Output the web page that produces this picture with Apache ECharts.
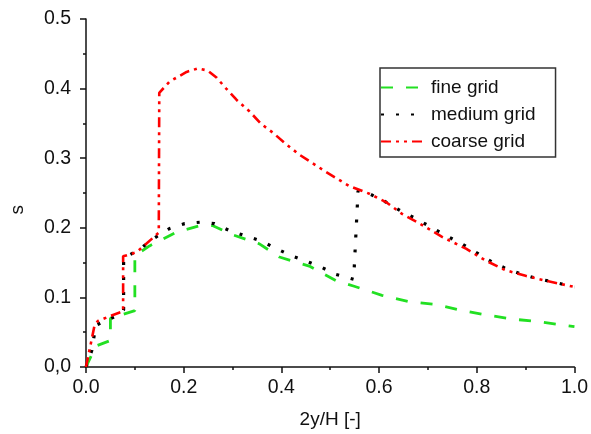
<!DOCTYPE html>
<html>
<head>
<meta charset="utf-8">
<script src="https://cdn.jsdelivr.net/npm/echarts@6/dist/echarts.min.js"></script>
<style>
  html, body { margin: 0; padding: 0; background: #fff; }
  #chart { width: 591px; height: 434px; }
</style>
</head>
<body>
<div id="chart"></div>
<script>
// Profiles of s across the channel half-height for three grid resolutions
const fineX = [0, 0.02, 0.05, 0.05, 0.1, 0.1, 0.13, 0.186, 0.233, 0.26, 0.3, 0.355, 0.396, 0.457, 0.512, 0.549, 0.606, 0.661, 0.716, 0.77, 0.818, 0.871, 0.927, 1.0];
const fineY = [0, 0.03, 0.038, 0.07, 0.081, 0.16, 0.174, 0.194, 0.203, 0.203, 0.19, 0.177, 0.158, 0.145, 0.124, 0.116, 0.103, 0.094, 0.09, 0.081, 0.075, 0.069, 0.065, 0.058];

const mediumX = [0, 0.012, 0.02, 0.045, 0.065, 0.077, 0.077, 0.106, 0.137, 0.171, 0.202, 0.233, 0.263, 0.294, 0.324, 0.359, 0.39, 0.42, 0.451, 0.483, 0.512, 0.548, 0.557, 0.58, 0.614, 0.645, 0.676, 0.706, 0.737, 0.769, 0.8, 0.831, 0.861, 0.894, 0.924, 0.957, 1.0];
const mediumY = [0, 0.024, 0.06, 0.068, 0.074, 0.082, 0.157, 0.167, 0.184, 0.199, 0.206, 0.208, 0.206, 0.196, 0.189, 0.181, 0.17, 0.16, 0.152, 0.143, 0.133, 0.126, 0.253, 0.249, 0.237, 0.224, 0.213, 0.201, 0.189, 0.177, 0.164, 0.151, 0.141, 0.133, 0.127, 0.122, 0.115];

const coarseX = [0, 0.017, 0.024, 0.049, 0.076, 0.076, 0.104, 0.149, 0.15, 0.171, 0.206, 0.229, 0.249, 0.267, 0.287, 0.308, 0.335, 0.359, 0.382, 0.41, 0.437, 0.492, 0.539, 0.58, 0.614, 0.647, 0.676, 0.729, 0.778, 0.818, 0.859, 0.9, 0.941, 1.0];
const coarseY = [0, 0.058, 0.066, 0.073, 0.08, 0.159, 0.165, 0.193, 0.394, 0.41, 0.424, 0.429, 0.426, 0.416, 0.4, 0.384, 0.367, 0.349, 0.337, 0.32, 0.305, 0.28, 0.26, 0.249, 0.237, 0.22, 0.209, 0.187, 0.17, 0.153, 0.139, 0.131, 0.124, 0.115];

const seriesNames = ['fine grid', 'medium grid', 'coarse grid'];

const pairs = (xs, ys) => xs.map((x, i) => [x, ys[i]]);
const font = '"Liberation Sans", Arial, sans-serif';
const ink = '#111';

const chart = echarts.init(document.getElementById('chart'), null, { renderer: 'canvas' });

function axisCommon() {
  return {
    type: 'value',
    nameLocation: 'middle',
    nameTextStyle: { fontFamily: font, fontSize: 19, color: ink },
    axisLine: { show: true, lineStyle: { color: ink, width: 1.5 } },
    axisTick: { show: true, length: 6, lineStyle: { color: ink, width: 1.5 } },
    minorTick: { show: true, splitNumber: 2, length: 3, lineStyle: { color: ink, width: 1.5 } },
    splitLine: { show: false }
  };
}

chart.setOption({
  animation: false,
  backgroundColor: '#fff',
  textStyle: { fontFamily: font },
  grid: { left: 86, right: 15, top: 19, bottom: 65, containLabel: false },
  legend: {
    orient: 'vertical',
    left: 380,
    top: 68,
    itemWidth: 45,
    itemHeight: 14,
    itemGap: 8,
    padding: [10, 20, 6, 0],
    borderColor: '#333',
    borderWidth: 1.5,
    data: seriesNames,
    itemStyle: { opacity: 0 },
    textStyle: { fontFamily: font, fontSize: 19, color: ink }
  },
  // y-axis title, drawn rotated a little below the axis midpoint
  graphic: [{
    type: 'text',
    left: 8,
    top: 205,
    rotation: Math.PI / 2,
    style: { text: 's', font: '19px ' + font, fill: ink }
  }],
  xAxis: Object.assign(axisCommon(), {
    min: 0, max: 1, interval: 0.2,
    name: '2y/H [-]',
    nameGap: 43,
    axisLabel: { fontFamily: font, fontSize: 19.5, color: ink, margin: 11,
      formatter: v => v.toFixed(1) }
  }),
  yAxis: Object.assign(axisCommon(), {
    min: 0, max: 0.5, interval: 0.1,
    axisLabel: { fontFamily: font, fontSize: 19.5, color: ink, margin: 15,
      formatter: v => (v === 0 ? '0,0' : v.toFixed(1)) }
  }),
  series: [
    {
      name: seriesNames[0], type: 'line', showSymbol: false, symbol: 'none', symbolSize: 0,
      data: pairs(fineX, fineY),
      itemStyle: { color: '#22e022' },
      lineStyle: { color: '#22e022', width: 2.8, type: [12, 13] }
    },
    {
      name: seriesNames[1], type: 'line', showSymbol: false, symbol: 'none', symbolSize: 0,
      data: pairs(mediumX, mediumY),
      itemStyle: { color: '#000' },
      lineStyle: { color: '#000', width: 3.2, type: [3, 12] }
    },
    {
      name: seriesNames[2], type: 'line', showSymbol: false, symbol: 'none', symbolSize: 0,
      data: pairs(coarseX, coarseY),
      itemStyle: { color: '#ff0000' },
      lineStyle: { color: '#ff0000', width: 2.6, type: [10, 5, 3, 5, 3, 5] }
    }
  ]
});
</script>
</body>
</html>
